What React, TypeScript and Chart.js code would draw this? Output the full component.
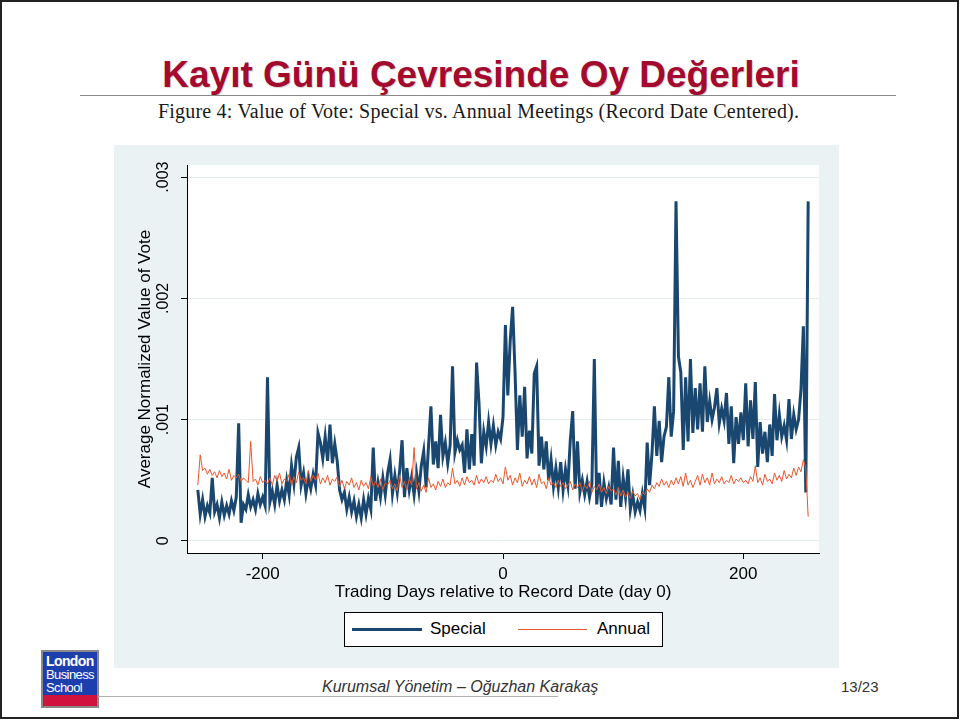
import React, { useEffect, useRef } from 'react';
import { Chart, registerables } from 'chart.js';

Chart.register(...registerables);

// Trading days relative to record date: first day and spacing of the samples
const DAY_START = -254;
const DAY_STEP = 2;

// Average normalized value of vote, in units of 0.0001
const SPECIAL = [
  4.2, 2.2, 3.4, 2.0, 2.9, 2.3, 5.2, 2.4, 3.0, 1.9, // -254
  3.2, 2.1, 2.9, 2.2, 3.3, 2.5, 3.6, 9.7, 1.5, 3.0, // -234
  2.6, 3.8, 2.8, 3.4, 2.6, 3.9, 3.0, 3.6, 2.9, 13.5, // -214
  3.2, 4.1, 3.0, 4.6, 3.3, 4.2, 3.4, 5.0, 3.8, 6.2, // -194
  4.7, 6.9, 7.7, 4.6, 5.6, 3.9, 5.2, 4.3, 5.5, 4.6, // -174
  8.9, 8.1, 6.8, 8.6, 6.6, 9.6, 6.4, 8.0, 6.6, 4.2, // -154
  3.4, 4.0, 2.6, 3.6, 2.4, 3.3, 2.0, 3.0, 1.9, 3.4, // -134
  2.2, 3.5, 2.6, 7.7, 3.3, 4.8, 3.6, 5.2, 3.8, 5.6, // -114
  6.7, 3.9, 5.4, 4.0, 5.8, 8.3, 3.6, 6.0, 4.2, 5.3, // -94
  3.8, 5.6, 4.1, 6.2, 7.4, 4.4, 7.8, 11.1, 6.3, 8.2, // -74
  6.0, 10.4, 7.0, 8.1, 6.4, 7.9, 14.4, 7.3, 8.3, 7.5, // -54
  7.9, 5.6, 9.2, 5.9, 8.8, 6.2, 14.7, 11.4, 6.4, 9.0, // -34
  7.8, 9.8, 8.0, 9.5, 7.9, 9.0, 8.4, 10.2, 17.8, 12.0, // -14
  16.5, 19.3, 14.0, 7.5, 12.0, 8.6, 12.7, 6.8, 9.1, 7.2, // 6
  13.8, 14.4, 6.2, 8.6, 5.9, 8.2, 5.0, 6.7, 4.5, 6.0, // 26
  4.4, 6.5, 4.2, 5.9, 4.6, 8.3, 10.7, 4.3, 8.2, 4.0, // 46
  5.0, 3.8, 4.9, 3.6, 4.7, 15.0, 3.0, 5.6, 2.8, 4.8, // 66
  3.5, 4.4, 3.0, 7.7, 3.4, 6.6, 2.8, 5.2, 3.6, 5.9, // 86
  2.6, 3.8, 2.4, 3.2, 2.5, 3.9, 2.7, 8.1, 4.6, 7.2, // 106
  11.1, 7.0, 9.9, 6.5, 8.6, 9.4, 13.5, 8.6, 10.7, 28.0, // 126
  15.2, 13.9, 7.5, 13.5, 8.2, 15.0, 8.9, 12.6, 9.2, 13.0, // 146
  9.0, 14.4, 9.8, 11.5, 10.0, 11.0, 12.6, 9.7, 10.9, 9.9, // 166
  12.2, 8.0, 11.1, 6.4, 10.2, 8.0, 10.6, 8.3, 13.0, 7.8, // 186
  11.6, 8.4, 13.1, 6.1, 9.8, 7.2, 9.0, 6.5, 9.6, 7.0, // 206
  12.1, 8.3, 10.4, 8.6, 9.5, 8.3, 11.7, 8.4, 10.4, 9.2, // 226
  10.0, 12.5, 17.7, 4.0, 28.0, // 246
];

const ANNUAL = [
  4.6, 7.1, 5.8, 6.0, 5.5, 5.9, 5.4, 5.7, 5.2, 5.8, // -254
  5.3, 5.6, 5.1, 5.9, 5.0, 5.4, 5.2, 5.5, 4.9, 5.2, // -234
  5.0, 4.8, 8.2, 4.9, 5.1, 4.6, 5.3, 4.8, 5.0, 4.7, // -214
  5.2, 4.6, 5.4, 4.9, 5.6, 4.7, 5.1, 4.9, 5.5, 4.6, // -194
  5.3, 4.8, 5.7, 5.0, 5.2, 4.7, 5.8, 4.9, 5.4, 5.0, // -174
  5.6, 4.7, 5.2, 4.8, 5.4, 4.6, 5.1, 4.9, 5.3, 4.5, // -154
  5.0, 4.3, 4.9, 4.6, 5.2, 4.4, 4.8, 4.2, 5.0, 4.5, // -134
  4.8, 4.3, 5.3, 4.5, 4.9, 4.4, 5.1, 4.2, 4.8, 4.6, // -114
  5.0, 4.3, 4.7, 4.1, 5.4, 4.4, 4.9, 4.2, 5.1, 4.6, // -94
  7.7, 4.3, 4.8, 4.1, 4.6, 4.0, 5.2, 4.4, 4.7, 4.2, // -74
  4.9, 4.5, 5.1, 4.4, 4.8, 4.6, 6.0, 4.7, 5.0, 4.5, // -54
  5.2, 4.6, 5.3, 4.8, 5.0, 4.6, 5.4, 4.7, 5.1, 4.8, // -34
  5.3, 4.7, 5.0, 4.8, 5.5, 4.9, 5.2, 4.7, 6.1, 5.0, // -14
  5.4, 4.6, 5.2, 4.8, 5.6, 4.5, 5.0, 4.7, 5.3, 4.6, // 6
  5.1, 4.4, 5.5, 4.7, 4.9, 4.3, 5.2, 4.6, 4.8, 4.4, // 26
  5.0, 4.5, 4.8, 4.3, 4.6, 4.9, 4.2, 4.7, 4.4, 4.8, // 46
  4.1, 4.6, 4.3, 4.9, 4.0, 4.5, 4.2, 4.7, 4.0, 4.4, // 66
  3.9, 4.5, 4.1, 4.3, 3.8, 4.4, 3.7, 4.2, 3.6, 4.0, // 86
  3.5, 4.1, 3.7, 3.9, 3.4, 4.0, 3.8, 4.3, 4.0, 4.6, // 106
  4.3, 4.8, 4.5, 5.1, 4.6, 4.9, 4.4, 5.0, 4.6, 5.2, // 126
  4.7, 5.3, 4.5, 5.6, 4.6, 5.0, 4.4, 4.9, 5.4, 4.6, // 146
  5.5, 4.8, 5.2, 4.6, 5.6, 4.7, 5.1, 4.8, 5.3, 4.7, // 166
  5.0, 4.8, 5.4, 4.7, 5.1, 4.9, 5.2, 4.8, 5.0, 4.7, // 186
  5.3, 4.9, 6.2, 4.8, 5.2, 4.6, 5.5, 4.9, 5.1, 4.7, // 206
  5.6, 5.0, 5.4, 4.9, 5.8, 5.1, 5.5, 5.2, 6.0, 5.4, // 226
  6.1, 5.7, 6.7, 6.0, 2.0, // 246
];

const VALUE_UNIT = 0.0001;
const SERIES_NAMES = ['Special', 'Annual'];
const X_TICKS = [-200, 0, 200];
const Y_TICKS = [0, 0.001, 0.002, 0.003];
const Y_TICK_LABELS = ['0', '.001', '.002', '.003'];

const NAVY = '#1A476F';
const ORANGE = '#E9582A';
const GRAPH_BG = '#EAF2F3';
const SANS = '"Liberation Sans", Arial, sans-serif';

const toPoints = (vals: number[]) =>
  vals.map((v, i) => ({ x: DAY_START + i * DAY_STEP, y: v * VALUE_UNIT }));

const plotPlugin = {
  id: 'plotDecor',
  beforeDraw(chart: any) {
    const { ctx, chartArea: a } = chart;
    ctx.save();
    ctx.fillStyle = '#ffffff';
    ctx.fillRect(a.left, a.top, a.right - a.left, a.bottom - a.top);
    ctx.restore();
  },
  afterDraw(chart: any) {
    const { ctx } = chart;
    const ys = chart.scales.y;
    ctx.save();
    ctx.fillStyle = '#000';
    ctx.font = '16px ' + SANS;
    ctx.textAlign = 'center';
    ctx.textBaseline = 'middle';
    Y_TICKS.forEach((v, i) => {
      const py = ys.getPixelForValue(v);
      ctx.save();
      ctx.translate(50, py);
      ctx.rotate(-Math.PI / 2);
      ctx.fillText(Y_TICK_LABELS[i], 0, 0);
      ctx.restore();
    });
    ctx.restore();
  },
};

function VoteChart() {
  const ref = useRef<HTMLCanvasElement | null>(null);
  useEffect(() => {
    if (!ref.current) return;
    const chart = new Chart(ref.current, {
      type: 'line',
      data: {
        datasets: [
          {
            label: SERIES_NAMES[0],
            data: toPoints(SPECIAL),
            borderColor: NAVY,
            backgroundColor: NAVY,
            borderWidth: 3,
            pointRadius: 0,
            tension: 0,
            order: 1,
          },
          {
            label: SERIES_NAMES[1],
            data: toPoints(ANNUAL),
            borderColor: ORANGE,
            backgroundColor: ORANGE,
            borderWidth: 1,
            pointRadius: 0,
            tension: 0,
            order: 0,
          },
        ],
      },
      options: {
        responsive: false,
        animation: false,
        devicePixelRatio: 1,
        layout: { padding: { left: 0, right: 20, top: 20, bottom: 0 } },
        plugins: {
          legend: { display: false },
          tooltip: { enabled: false },
        },
        scales: {
          x: {
            type: 'linear',
            min: -263,
            max: 263,
            afterBuildTicks: (s: any) => {
              s.ticks = X_TICKS.map((v) => ({ value: v }));
            },
            afterFit: (s: any) => {
              s.height = 115;
            },
            grid: {
              drawOnChartArea: false,
              drawTicks: true,
              tickLength: 6,
              tickColor: '#000',
            },
            border: { display: true, color: '#000', width: 1 },
            ticks: {
              color: '#000',
              font: { family: SANS, size: 17 },
              padding: 5,
              maxRotation: 0,
            },
            title: {
              display: true,
              text: 'Trading Days relative to Record Date (day 0)',
              color: '#000',
              font: { family: SANS, size: 17 },
              padding: { top: 0, bottom: 65 },
            },
          },
          y: {
            type: 'linear',
            min: -0.0001,
            max: 0.0031,
            afterBuildTicks: (s: any) => {
              s.ticks = Y_TICKS.map((v) => ({ value: v }));
            },
            afterFit: (s: any) => {
              s.width = 73;
            },
            grid: {
              color: '#E4ECEE',
              lineWidth: 1,
              drawTicks: true,
              tickLength: 6,
              tickColor: '#000',
            },
            border: { display: true, color: '#000', width: 1 },
            ticks: { display: false },
            title: {
              display: true,
              text: 'Average Normalized Value of Vote',
              color: '#000',
              font: { family: SANS, size: 17 },
              padding: { top: 21, bottom: 0 },
            },
          },
        },
      },
      plugins: [plotPlugin],
    } as any);
    return () => chart.destroy();
  }, []);

  return (
    <canvas
      ref={ref}
      width={725}
      height={523}
      style={{
        position: 'absolute',
        left: 114,
        top: 145,
        width: 725,
        height: 523,
        background: GRAPH_BG,
      }}
    />
  );
}

export default function App() {
  const abs = (o: React.CSSProperties): React.CSSProperties => ({ position: 'absolute', ...o });
  return (
    <div style={abs({ left: 0, top: 0, width: 960, height: 720, background: '#fff', overflow: 'hidden', fontFamily: SANS })}>
      <div style={abs({ left: 0, top: 0, width: 955, height: 715, border: '2px solid #222' })} />
      <div
        style={abs({
          left: 0,
          top: 56,
          width: 962,
          textAlign: 'center',
          fontSize: 37,
          lineHeight: '37px',
          fontWeight: 'bold',
          color: '#A30A2E',
          textShadow: '1px 1px 1px rgba(0,0,0,0.18)',
          whiteSpace: 'nowrap',
        })}
      >
        Kayıt Günü Çevresinde Oy Değerleri
      </div>
      <div style={abs({ left: 80, top: 95, width: 816, height: 1, background: '#8a8a8a' })} />
      <div
        style={abs({
          left: 158,
          top: 101,
          width: 640,
          fontFamily: '"Liberation Serif", "Times New Roman", serif',
          fontSize: 20,
          lineHeight: '20px',
          color: '#1a1a1a',
          whiteSpace: 'nowrap',
          letterSpacing: 0.2,
        })}
      >
        Figure 4: Value of Vote: Special vs. Annual Meetings (Record Date Centered).
      </div>

      <VoteChart />

      <div
        style={abs({
          left: 344,
          top: 612,
          width: 317,
          height: 33,
          border: '1px solid #000',
          background: '#fff',
        })}
      >
        <div style={abs({ left: 7, top: 15, width: 70, height: 3, background: NAVY })} />
        <div style={abs({ left: 85, top: 6, fontSize: 17, lineHeight: '20px', color: '#000' })}>{SERIES_NAMES[0]}</div>
        <div style={abs({ left: 173, top: 16, width: 69, height: 1, background: ORANGE })} />
        <div style={abs({ left: 252, top: 6, fontSize: 17, lineHeight: '20px', color: '#000' })}>{SERIES_NAMES[1]}</div>
      </div>

      <div style={abs({ left: 41, top: 650, width: 54, height: 54, border: '2px solid #8a8a8a', background: '#1D3FAE' })}>
        <div style={abs({ left: 0, bottom: 0, width: 54, height: 11, background: '#D0123C' })} />
        <div style={abs({ left: 3, top: 2, color: '#fff', fontSize: 14, lineHeight: '14px', fontWeight: 'bold', letterSpacing: -0.6 })}>London</div>
        <div style={abs({ left: 3, top: 16, color: '#fff', fontSize: 13, lineHeight: '13px', letterSpacing: -0.6 })}>Business</div>
        <div style={abs({ left: 3, top: 29, color: '#fff', fontSize: 13, lineHeight: '13px', letterSpacing: -0.6 })}>School</div>
      </div>
      <div style={abs({ left: 98, top: 696, width: 460, height: 1, background: '#b0b0b0' })} />
      <div style={abs({ left: 322, top: 678, fontSize: 16, lineHeight: '18px', fontStyle: 'italic', color: '#333', whiteSpace: 'nowrap' })}>
        Kurumsal Yönetim – Oğuzhan Karakaş
      </div>
      <div style={abs({ left: 841, top: 678, fontSize: 15, lineHeight: '18px', color: '#333' })}>13/23</div>
    </div>
  );
}
